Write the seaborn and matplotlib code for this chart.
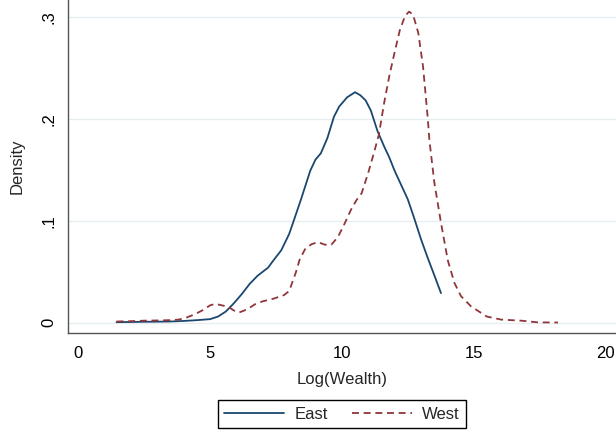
import matplotlib
matplotlib.use("Agg")
import matplotlib.pyplot as plt
import seaborn as sns
import pandas as pd

# ---- data ----
east_x = [1.45, 2.0, 2.5, 3.0, 3.5, 4.0, 4.5, 5.0, 5.3, 5.6, 5.9, 6.2, 6.5, 6.8, 7.0,
          7.2, 7.4, 7.7, 8.0, 8.2, 8.45, 8.8, 9.0, 9.2, 9.45, 9.7, 9.9, 10.2, 10.5,
          10.7, 10.9, 11.1, 11.35, 11.6, 11.8, 12.0, 12.25, 12.5, 12.75, 13.0,
          13.25, 13.5, 13.76]
east_y = [0.0005, 0.0007, 0.0009, 0.001, 0.0012, 0.0017, 0.0025, 0.0035, 0.006, 0.011,
          0.019, 0.028, 0.038, 0.046, 0.050, 0.054, 0.061, 0.071, 0.087, 0.102, 0.121,
          0.149, 0.160, 0.166, 0.181, 0.202, 0.212, 0.221, 0.226, 0.223, 0.218, 0.208,
          0.188, 0.173, 0.162, 0.149, 0.135, 0.121, 0.102, 0.082, 0.064, 0.047, 0.029]

west_x = [1.45, 2.0, 2.5, 3.0, 3.5, 3.8, 4.1, 4.4, 4.7, 5.0, 5.2, 5.45, 5.7, 5.9, 6.1,
          6.4, 6.7, 7.0, 7.4, 7.8, 8.0, 8.25, 8.4, 8.6, 8.85, 9.1, 9.35, 9.6, 9.85,
          10.1, 10.35, 10.55, 10.75, 11.0, 11.2, 11.4, 11.6, 11.8, 12.0, 12.2, 12.4,
          12.55, 12.7, 12.9, 13.08, 13.26, 13.32, 13.51, 13.76, 14.02, 14.27, 14.52,
          14.9, 15.5, 16.05, 16.8, 17.45, 18.2]
west_y = [0.0012, 0.0015, 0.002, 0.0022, 0.0025, 0.003, 0.005, 0.008, 0.012, 0.017,
          0.0185, 0.017, 0.0155, 0.012, 0.010, 0.013, 0.018, 0.021, 0.0235, 0.027,
          0.031, 0.049, 0.062, 0.072, 0.077, 0.079, 0.0765, 0.0765, 0.084, 0.097,
          0.111, 0.120, 0.127, 0.147, 0.165, 0.184, 0.215, 0.242, 0.265, 0.287, 0.301,
          0.305, 0.302, 0.284, 0.251, 0.200, 0.179, 0.137, 0.098, 0.061, 0.039, 0.026,
          0.016, 0.006, 0.003, 0.002, 0.0003, 0.0002]

groups = ["East", "West"]
xticks = [0, 5, 10, 15, 20]
yticks = [0, 0.1, 0.2, 0.3]
ytick_labels = ["0", ".1", ".2", ".3"]
x_label = "Log(Wealth)"
y_label = "Density"

df = pd.concat([
    pd.DataFrame({"x": east_x, "density": east_y, "region": "East"}),
    pd.DataFrame({"x": west_x, "density": west_y, "region": "West"}),
], ignore_index=True)

# ---- style ----
sns.set_style("white")
plt.rcParams["font.family"] = ["Liberation Sans", "DejaVu Sans"]
plt.rcParams["lines.scale_dashes"] = False

fig = plt.figure(figsize=(6.16, 4.37), dpi=100)
ax = fig.add_axes([68 / 616, (437 - 333) / 437, (616 - 68) / 616, 333 / 437])

palette = {"East": "#1a476f", "West": "#90353b"}
dashes = {"East": "", "West": (5.0, 3.4)}
sns.lineplot(data=df, x="x", y="density", hue="region", style="region",
             palette=palette, dashes=dashes, estimator=None, sort=False,
             linewidth=1.3, legend=False, ax=ax, zorder=3)

ax.set_xlim(-0.391, 20.40)
ax.set_ylim(-0.0101, 0.3164)
ax.set_xticks(xticks)
ax.set_xticklabels([str(t) for t in xticks])
ax.set_yticks(yticks)
ax.set_yticklabels(ytick_labels, rotation=90, va="center")

ax.grid(axis="y", color="#e6eef0", linewidth=1.0)
ax.grid(axis="x", visible=False)
ax.set_axisbelow(True)

for side in ["top", "right"]:
    ax.spines[side].set_visible(False)
for side in ["left", "bottom"]:
    ax.spines[side].set_color("#555555")
    ax.spines[side].set_linewidth(1.0)

ax.tick_params(axis="both", which="major", direction="out", length=5, width=1.0,
               color="#555555", labelsize=12, labelcolor="black")
ax.tick_params(axis="y", pad=3.5)
ax.tick_params(axis="x", pad=4)

ax.set_xlabel(x_label, fontsize=12)
ax.set_ylabel(y_label, fontsize=12)
ax.xaxis.set_label_coords(0.5, -0.117)
ax.xaxis.label.set_va("top")
ax.yaxis.set_label_coords(-0.080, 0.5)

leg = ax.legend(ax.lines[:2], groups, loc="upper center", bbox_to_anchor=(0.5, -0.201),
                borderaxespad=0, ncol=2, fontsize=12, frameon=True, fancybox=False,
                handlelength=3.6, handletextpad=0.6, columnspacing=1.45,
                borderpad=0.4)
leg.get_frame().set_edgecolor("black")
leg.get_frame().set_linewidth(1.0)
leg.get_frame().set_alpha(1)

fig.savefig("out.png", dpi=100)
